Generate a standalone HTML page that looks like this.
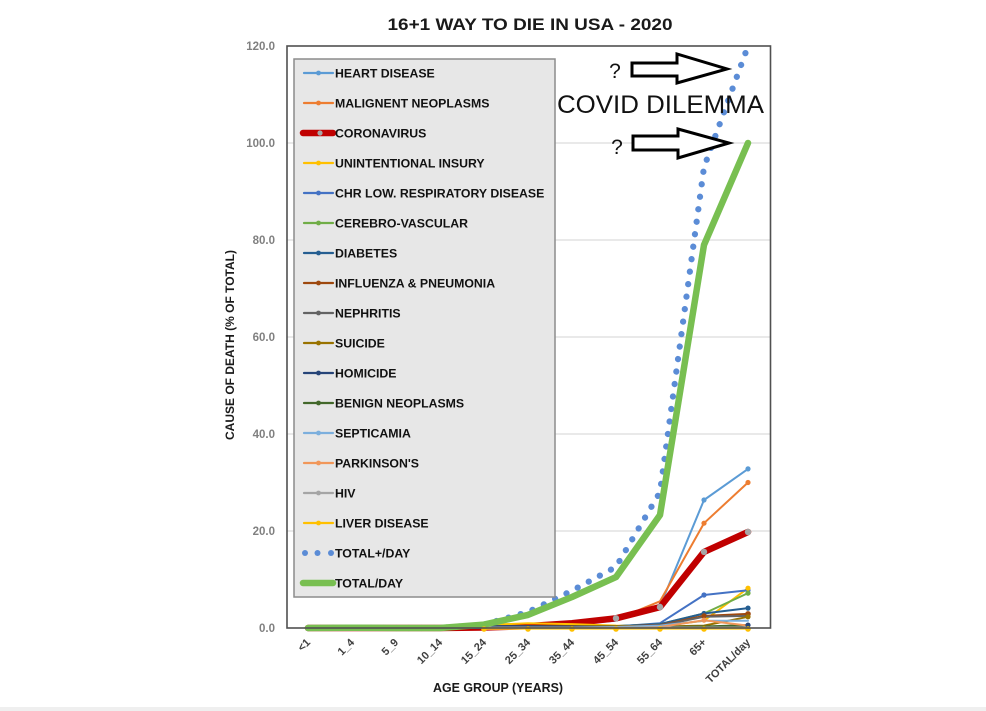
<!DOCTYPE html>
<html><head><meta charset="utf-8"><style>
html,body{margin:0;padding:0;background:#fff;}
svg{display:block;font-family:"Liberation Sans",sans-serif;}
</style></head><body>
<svg width="986" height="711" viewBox="0 0 986 711" xmlns="http://www.w3.org/2000/svg">
<rect x="0" y="0" width="986" height="711" fill="#fff"/>
<rect x="0" y="707" width="986" height="4" fill="#efefef"/>
<!-- title -->
<text x="530" y="30" text-anchor="middle" font-size="17" font-weight="bold" fill="#1a1a1a" textLength="285" lengthAdjust="spacingAndGlyphs">16+1 WAY TO DIE IN USA - 2020</text>
<!-- gridlines -->
<g stroke="#dcdcdc" stroke-width="1.2">
<line x1="287" y1="143" x2="770" y2="143"/>
<line x1="287" y1="240" x2="770" y2="240"/>
<line x1="287" y1="337" x2="770" y2="337"/>
<line x1="287" y1="434" x2="770" y2="434"/>
<line x1="287" y1="531" x2="770" y2="531"/>
</g>
<!-- y tick labels -->
<g font-size="11.5" font-weight="bold" fill="#808080" text-anchor="end">
<text x="275" y="50">120.0</text>
<text x="275" y="147">100.0</text>
<text x="275" y="244">80.0</text>
<text x="275" y="341">60.0</text>
<text x="275" y="438">40.0</text>
<text x="275" y="535">20.0</text>
<text x="275" y="632">0.0</text>
</g>
<text transform="translate(234,345) rotate(-90)" text-anchor="middle" font-size="12" font-weight="bold" fill="#1a1a1a" textLength="190" lengthAdjust="spacingAndGlyphs">CAUSE OF DEATH (% OF TOTAL)</text>
<!-- x tick labels -->
<g font-size="11" font-weight="bold" fill="#404040" text-anchor="end">
<text transform="translate(311,643) rotate(-45)">&lt;1</text>
<text transform="translate(355,643) rotate(-45)">1_4</text>
<text transform="translate(399,643) rotate(-45)">5_9</text>
<text transform="translate(443,643) rotate(-45)">10_14</text>
<text transform="translate(487,643) rotate(-45)">15_24</text>
<text transform="translate(531,643) rotate(-45)">25_34</text>
<text transform="translate(575,643) rotate(-45)">35_44</text>
<text transform="translate(619,643) rotate(-45)">45_54</text>
<text transform="translate(663,643) rotate(-45)">55_64</text>
<text transform="translate(707,643) rotate(-45)">65+</text>
<text transform="translate(751,643) rotate(-45)">TOTAL/day</text>
</g>
<text x="498" y="692" text-anchor="middle" font-size="13" font-weight="bold" fill="#1a1a1a" textLength="130" lengthAdjust="spacingAndGlyphs">AGE GROUP (YEARS)</text>

<!-- series -->
<g fill="none" stroke-linejoin="round" stroke-linecap="round">
<polyline stroke="#5b8cd6" stroke-width="6.2" stroke-dasharray="0.1 12.5" points="308,628 352,627.8 396,628 440,628 484,624.6 528,612 572,590.7 616,566.9 660,492.2 704,167.3 748,46"/>
<polyline stroke="#5b9bd5" stroke-width="2" points="308,628 352,628 396,628 440,628 484,627.5 528,626.5 572,624.1 616,620.7 660,606.2 704,500 748,468.9"/>
<polyline stroke="#ed7d31" stroke-width="2" points="308,628 352,628 396,628 440,628 484,627.5 528,626.5 572,623.6 616,619.3 660,601.3 704,523.2 748,482.5"/>
<polyline stroke="#c00000" stroke-width="6.5" points="308,628 352,628 396,628 440,628 484,627.5 528,626.1 572,623.2 616,618.3 660,607.1 704,551.9 748,532"/>
<polyline stroke="#ffc000" stroke-width="2" points="308,628 352,628 396,628 440,628 484,625.1 528,623.2 572,624.1 616,625.6 660,626.1 704,620.7 748,588.2"/>
<polyline stroke="#4472c4" stroke-width="2" points="308,628 352,628 396,628 440,628 484,628 528,628 572,627.5 616,626.5 660,623.2 704,595 748,590.2"/>
<polyline stroke="#70ad47" stroke-width="2" points="484,628 528,627.5 572,627 616,626.1 660,624.1 704,613.5 748,593.1"/>
<polyline stroke="#255e91" stroke-width="2" points="484,628 528,627.5 572,627 616,626.1 660,624.1 704,613.5 748,608.1"/>
<polyline stroke="#9e480e" stroke-width="2" points="484,628 528,627.5 572,627 616,626.5 660,625.1 704,615.9 748,613.9"/>
<polyline stroke="#636363" stroke-width="2" points="484,628 528,628 572,627.5 616,627 660,625.6 704,616.8 748,615.9"/>
<polyline stroke="#997300" stroke-width="2" points="484,626.5 528,626.1 572,626.1 616,626.1 660,626.5 704,625.6 748,616.8"/>
<polyline stroke="#264478" stroke-width="2" points="484,626.1 528,626.1 572,626.5 616,627 660,627.5 704,627.5 748,625.1"/>
<polyline stroke="#43682b" stroke-width="2" points="484,628 528,628 572,627.5 616,627.5 660,627 704,626.5 748,625.1"/>
<polyline stroke="#7cafdd" stroke-width="2" points="484,628 528,628 572,627.5 616,627 660,625.6 704,620.7 748,620.7"/>
<polyline stroke="#f1975a" stroke-width="2" points="616,628 660,627 704,620.2 748,625.6"/>
<polyline stroke="#a5a5a5" stroke-width="2" points="484,627.5 528,627.5 572,627.5 616,627.5 660,627.5 704,627.5 748,627.5"/>
<polyline stroke="#ffcd33" stroke-width="2.5" points="484,628.5 528,628.5 572,628.5 616,628.5 660,628.5 704,628.5 748,628.5"/>
<polyline stroke="#78bf51" stroke-width="6.5" points="308,628 352,627.8 396,628 440,628 484,624.6 528,614.9 572,597 616,577.1 660,515 704,244.9 748,143"/>
</g>
<!-- markers -->
<g>
<circle cx="704" cy="500" r="2.6" fill="#5b9bd5"/><circle cx="748" cy="468.9" r="2.6" fill="#5b9bd5"/><circle cx="660" cy="606.2" r="2.4" fill="#5b9bd5"/>
<circle cx="704" cy="523.2" r="2.6" fill="#ed7d31"/><circle cx="748" cy="482.5" r="2.6" fill="#ed7d31"/>
<circle cx="704" cy="595" r="2.6" fill="#4472c4"/><circle cx="748" cy="590.2" r="2.6" fill="#4472c4"/>
<circle cx="748" cy="588.2" r="2.6" fill="#ffc000"/>
<circle cx="748" cy="593.1" r="2.6" fill="#70ad47"/>
<circle cx="748" cy="608.1" r="2.6" fill="#255e91"/><circle cx="704" cy="613.5" r="2.6" fill="#255e91"/>
<circle cx="748" cy="613.9" r="2.8" fill="#9e480e"/><circle cx="704" cy="615.9" r="2.6" fill="#9e480e"/>
<circle cx="748" cy="616.8" r="2.6" fill="#997300"/>
<circle cx="748" cy="625.1" r="2.6" fill="#264478"/>
<circle cx="704" cy="620.2" r="2.6" fill="#f1975a"/>
<circle cx="572" cy="629" r="2.8" fill="#ffc000"/><circle cx="616" cy="629" r="2.8" fill="#ffc000"/><circle cx="660" cy="629" r="2.8" fill="#ffc000"/><circle cx="704" cy="629" r="2.8" fill="#ffc000"/><circle cx="748" cy="629" r="2.8" fill="#ffc000"/><circle cx="528" cy="629" r="2.8" fill="#ffc000"/><circle cx="484" cy="629" r="2.8" fill="#ffc000"/>
<circle cx="616" cy="618.3" r="3.2" fill="#a6a6a6"/><circle cx="660" cy="607.1" r="3.2" fill="#a6a6a6"/><circle cx="704" cy="551.9" r="3.2" fill="#a6a6a6"/><circle cx="748" cy="532" r="3.2" fill="#a6a6a6"/>
</g>
<!-- plot border -->
<rect x="287" y="46" width="483.5" height="582" fill="none" stroke="#505050" stroke-width="1.6"/>

<!-- legend -->
<rect x="294" y="59" width="261" height="538" fill="#e7e7e7" stroke="#8c8c8c" stroke-width="1.5"/>
<g stroke-width="2.2" stroke-linecap="round">
<line x1="304" y1="73" x2="333" y2="73" stroke="#5b9bd5"/>
<line x1="304" y1="103" x2="333" y2="103" stroke="#ed7d31"/>
<line x1="303" y1="133" x2="333" y2="133" stroke="#c00000" stroke-width="6.5"/>
<line x1="304" y1="163" x2="333" y2="163" stroke="#ffc000"/>
<line x1="304" y1="193" x2="333" y2="193" stroke="#4472c4"/>
<line x1="304" y1="223" x2="333" y2="223" stroke="#70ad47"/>
<line x1="304" y1="253" x2="333" y2="253" stroke="#255e91"/>
<line x1="304" y1="283" x2="333" y2="283" stroke="#9e480e"/>
<line x1="304" y1="313" x2="333" y2="313" stroke="#636363"/>
<line x1="304" y1="343" x2="333" y2="343" stroke="#997300"/>
<line x1="304" y1="373" x2="333" y2="373" stroke="#264478"/>
<line x1="304" y1="403" x2="333" y2="403" stroke="#43682b"/>
<line x1="304" y1="433" x2="333" y2="433" stroke="#7cafdd"/>
<line x1="304" y1="463" x2="333" y2="463" stroke="#f1975a"/>
<line x1="304" y1="493" x2="333" y2="493" stroke="#a5a5a5"/>
<line x1="304" y1="523" x2="333" y2="523" stroke="#ffc000"/>
<line x1="303" y1="583" x2="333" y2="583" stroke="#78bf51" stroke-width="6.5"/>
</g>
<g>
<circle cx="318.5" cy="73" r="2.4" fill="#5b9bd5"/>
<circle cx="318.5" cy="103" r="2.4" fill="#ed7d31"/>
<circle cx="320" cy="133" r="2.6" fill="#a6a6a6"/>
<circle cx="318.5" cy="163" r="2.4" fill="#ffc000"/>
<circle cx="318.5" cy="193" r="2.4" fill="#4472c4"/>
<circle cx="318.5" cy="223" r="2.4" fill="#70ad47"/>
<circle cx="318.5" cy="253" r="2.4" fill="#255e91"/>
<circle cx="318.5" cy="283" r="2.4" fill="#9e480e"/>
<circle cx="318.5" cy="313" r="2.4" fill="#636363"/>
<circle cx="318.5" cy="343" r="2.4" fill="#997300"/>
<circle cx="318.5" cy="373" r="2.4" fill="#264478"/>
<circle cx="318.5" cy="403" r="2.4" fill="#43682b"/>
<circle cx="318.5" cy="433" r="2.4" fill="#7cafdd"/>
<circle cx="318.5" cy="463" r="2.4" fill="#f1975a"/>
<circle cx="318.5" cy="493" r="2.4" fill="#a5a5a5"/>
<circle cx="318.5" cy="523" r="2.4" fill="#ffc000"/>
<circle cx="305" cy="553" r="3" fill="#5b8cd6"/>
<circle cx="317.5" cy="553" r="3" fill="#5b8cd6"/>
<circle cx="331" cy="553" r="3" fill="#5b8cd6"/>
</g>
<g font-size="12.3" font-weight="bold" fill="#111">
<text x="335" y="77.5">HEART DISEASE</text>
<text x="335" y="107.5">MALIGNENT NEOPLASMS</text>
<text x="335" y="137.5">CORONAVIRUS</text>
<text x="335" y="167.5">UNINTENTIONAL INSURY</text>
<text x="335" y="197.5">CHR LOW. RESPIRATORY DISEASE</text>
<text x="335" y="227.5">CEREBRO-VASCULAR</text>
<text x="335" y="257.5">DIABETES</text>
<text x="335" y="287.5">INFLUENZA &amp; PNEUMONIA</text>
<text x="335" y="317.5">NEPHRITIS</text>
<text x="335" y="347.5">SUICIDE</text>
<text x="335" y="377.5">HOMICIDE</text>
<text x="335" y="407.5">BENIGN NEOPLASMS</text>
<text x="335" y="437.5">SEPTICAMIA</text>
<text x="335" y="467.5">PARKINSON'S</text>
<text x="335" y="497.5">HIV</text>
<text x="335" y="527.5">LIVER DISEASE</text>
<text x="335" y="557.5">TOTAL+/DAY</text>
<text x="335" y="587.5">TOTAL/DAY</text>
</g>

<!-- annotations -->
<text x="557" y="113" font-size="25" fill="#111" textLength="207" lengthAdjust="spacingAndGlyphs">COVID DILEMMA</text>
<text x="615" y="78" text-anchor="middle" font-size="21" fill="#111">?</text>
<text x="617" y="154" text-anchor="middle" font-size="21" fill="#111">?</text>
<polygon points="632,63 677,63 677,54 727,69 677,83 677,76 632,76" fill="#fff" stroke="#000" stroke-width="3" stroke-linejoin="miter"/>
<polygon points="633,136 678,136 678,129 729,143 678,158 678,150 633,150" fill="#fff" stroke="#000" stroke-width="3" stroke-linejoin="miter"/>
</svg>
</body></html>
